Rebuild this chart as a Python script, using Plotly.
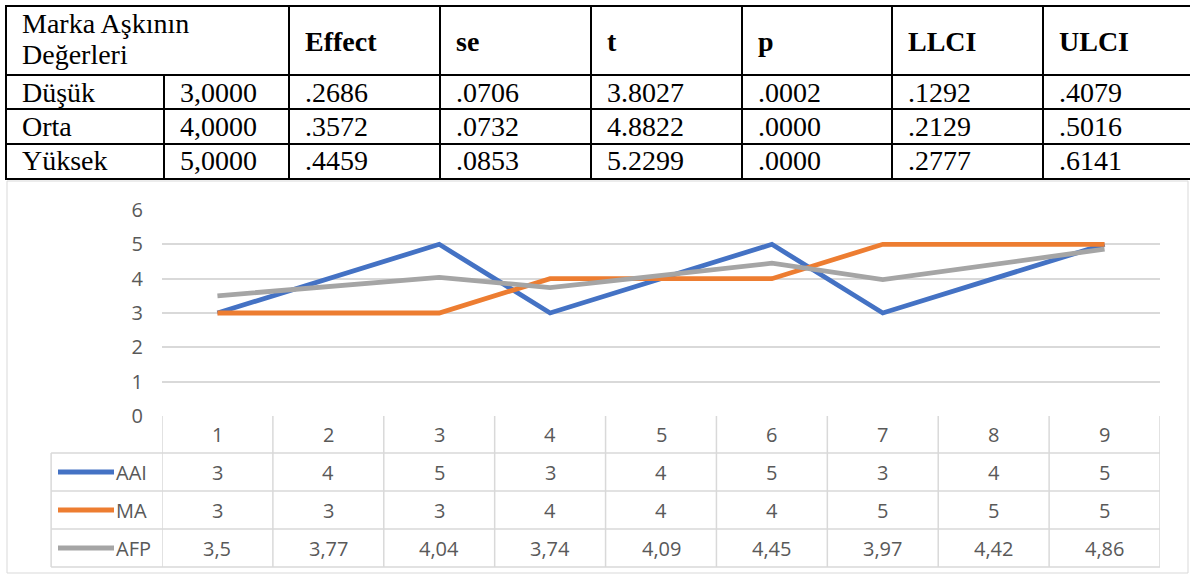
import plotly.graph_objects as go

# ---------------- data ----------------
categories = [1, 2, 3, 4, 5, 6, 7, 8, 9]
series_names = ["AAI", "MA", "AFP"]
aai = [3, 4, 5, 3, 4, 5, 3, 4, 5]
ma = [3, 3, 3, 4, 4, 4, 5, 5, 5]
afp = [3.5, 3.77, 4.04, 3.74, 4.09, 4.45, 3.97, 4.42, 4.86]
series_colors = ["#4472C4", "#ED7D31", "#A5A5A5"]
y_ticks = [0, 1, 2, 3, 4, 5, 6]

# top statistics table
group_label_lines = ["Marka Aşkının", "Değerleri"]
col_headers = ["Effect", "se", "t", "p", "LLCI", "ULCI"]
row_labels = ["Düşük", "Orta", "Yüksek"]
row_values = ["3,0000", "4,0000", "5,0000"]
effect = [".2686", ".3572", ".4459"]
se = [".0706", ".0732", ".0853"]
t_vals = ["3.8027", "4.8822", "5.2299"]
p_vals = [".0002", ".0000", ".0000"]
llci = [".1292", ".2129", ".2777"]
ulci = [".4079", ".5016", ".6141"]
stat_cols = [effect, se, t_vals, p_vals, llci, ulci]

# ---------------- layout helpers (pixel -> paper) ----------------
W, H = 1190, 576
def PX(x):
    return x / W
def PY(y):
    return 1 - y / H

TXT = "#595959"
GRID = "#D9D9D9"
FONT_C = "Open Sans"
FONT_T = "Liberation Serif"
CFS = 20

plot_l, plot_r = 162, 1160
plot_b, plot_t = 416, 210

fig = go.Figure()
all_series = [aai, ma, afp]
for name, vals, col in zip(series_names, all_series, series_colors):
    fig.add_trace(go.Scatter(x=categories, y=vals, mode="lines", name=name,
                             line=dict(color=col, width=4.8), showlegend=False,
                             hoverinfo="x+y+name"))

shapes = []
annotations = []

# ---------- chart frame ----------
shapes.append(dict(type="rect", xref="paper", yref="paper",
                   x0=PX(7), x1=PX(1188), y0=PY(573), y1=PY(181),
                   line=dict(color=GRID, width=1), layer="below"))

# ---------- data table under chart ----------
n = len(categories)
cat_w = (plot_r - plot_l) / n
row_lines = [453, 491, 529, 567]
row_centers = [434.5, 472, 510, 548]
legend_left = plot_l - cat_w
for yy in row_lines:
    shapes.append(dict(type="line", xref="paper", yref="paper",
                       x0=PX(legend_left), x1=PX(plot_r), y0=PY(yy), y1=PY(yy),
                       line=dict(color=GRID, width=1.5)))
for i in range(n + 1):
    shapes.append(dict(type="line", xref="x", yref="paper",
                       x0=categories[0] - 0.5 + i, x1=categories[0] - 0.5 + i,
                       y0=PY(plot_b), y1=PY(row_lines[-1]),
                       line=dict(color=GRID, width=1.5)))
shapes.append(dict(type="line", xref="paper", yref="paper",
                   x0=PX(legend_left), x1=PX(legend_left),
                   y0=PY(row_lines[0]), y1=PY(row_lines[-1]),
                   line=dict(color=GRID, width=1.5)))

def fmt(v):
    return f"{v:g}".replace(".", ",")

for c in categories:
    annotations.append(dict(x=c, y=PY(row_centers[0]), xref="x", yref="paper",
                            text=str(c), showarrow=False, xanchor="center", yanchor="middle",
                            font=dict(family=FONT_C, size=CFS, color=TXT)))
for r, (name, vals, col) in enumerate(zip(series_names, all_series, series_colors)):
    yc = row_centers[r + 1]
    for c, v in zip(categories, vals):
        annotations.append(dict(x=c, y=PY(yc), xref="x", yref="paper",
                                text=fmt(v), showarrow=False, xanchor="center", yanchor="middle",
                                font=dict(family=FONT_C, size=CFS, color=TXT)))
    shapes.append(dict(type="line", xref="paper", yref="paper",
                       x0=PX(58), x1=PX(114), y0=PY(yc), y1=PY(yc),
                       line=dict(color=col, width=4.8)))
    annotations.append(dict(x=PX(114), y=PY(yc), xref="paper", yref="paper",
                            text=name, showarrow=False, xanchor="left", yanchor="middle",
                            font=dict(family=FONT_C, size=CFS, color=TXT)))

# ---------- top statistics table ----------
vlines = [6, 289, 440, 591, 742, 892, 1043]
hlines = [6, 75, 109, 144, 179]
split_x = 164
BL = "#000000"
for yy in hlines:
    shapes.append(dict(type="line", xref="paper", yref="paper",
                       x0=PX(5), x1=PX(1192), y0=PY(yy), y1=PY(yy),
                       line=dict(color=BL, width=2)))
for xx in vlines:
    shapes.append(dict(type="line", xref="paper", yref="paper",
                       x0=PX(xx), x1=PX(xx), y0=PY(hlines[0]), y1=PY(hlines[-1]),
                       line=dict(color=BL, width=2)))
shapes.append(dict(type="line", xref="paper", yref="paper",
                   x0=PX(split_x), x1=PX(split_x), y0=PY(hlines[1]), y1=PY(hlines[-1]),
                   line=dict(color=BL, width=2)))

FS = 28
pad = 14
for k, line_txt in enumerate(group_label_lines):
    annotations.append(dict(x=PX(vlines[0] + pad), y=PY(24 + 30 * k), xref="paper", yref="paper",
                            text=line_txt, showarrow=False, xanchor="left", yanchor="middle",
                            font=dict(family=FONT_T, size=FS, color=BL)))
for j, h in enumerate(col_headers):
    annotations.append(dict(x=PX(vlines[j + 1] + pad), y=PY(42), xref="paper", yref="paper",
                            text="<b>" + h + "</b>", showarrow=False, xanchor="left", yanchor="middle",
                            font=dict(family=FONT_T, size=FS, color=BL)))
data_centers = [92.5, 126.5, 161]
for r in range(len(row_labels)):
    yc = PY(data_centers[r])
    annotations.append(dict(x=PX(vlines[0] + pad), y=yc, xref="paper", yref="paper",
                            text=row_labels[r], showarrow=False, xanchor="left", yanchor="middle",
                            font=dict(family=FONT_T, size=FS, color=BL)))
    annotations.append(dict(x=PX(split_x + pad), y=yc, xref="paper", yref="paper",
                            text=row_values[r], showarrow=False, xanchor="left", yanchor="middle",
                            font=dict(family=FONT_T, size=FS, color=BL)))
    for j, colvals in enumerate(stat_cols):
        annotations.append(dict(x=PX(vlines[j + 1] + pad), y=yc, xref="paper", yref="paper",
                                text=colvals[r], showarrow=False, xanchor="left", yanchor="middle",
                                font=dict(family=FONT_T, size=FS, color=BL)))

fig.update_layout(
    width=W, height=H, autosize=False,
    margin=dict(l=0, r=0, t=0, b=0, pad=0),
    paper_bgcolor="white", plot_bgcolor="white",
    xaxis=dict(domain=[PX(plot_l), PX(plot_r)], range=[0.5, 9.5],
               showticklabels=False, showgrid=False, zeroline=False, showline=False,
               fixedrange=True, automargin=False),
    yaxis=dict(domain=[PY(plot_b), PY(plot_t)], range=[0, 6], tickvals=y_ticks,
               showgrid=True, gridcolor=GRID, gridwidth=1.5, zeroline=False, showline=False,
               tickfont=dict(family=FONT_C, size=CFS, color=TXT), ticklabelstandoff=18,
               fixedrange=True, automargin=False),
    shapes=shapes, annotations=annotations,
)

css_js = (
    "var s=document.createElement('style');"
    "s.innerHTML='html,body{margin:0;padding:0;overflow:hidden;}';"
    "document.head.appendChild(s);"
)
fig.write_html("out.html", config={"displayModeBar": False, "responsive": False},
               post_script=css_js)
